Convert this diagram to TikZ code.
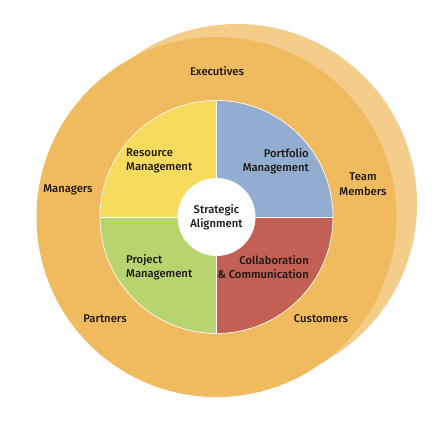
\documentclass[tikz,border=0pt]{standalone}
\usepackage{fontspec}
\setmainfont{Fira Sans}[BoldFont={* Medium}]
\usepackage{xcolor}
\definecolor{ringorange}{HTML}{F0BA5F}
\definecolor{ringshadow}{HTML}{F4CD8B}
\definecolor{resyellow}{HTML}{F7DB5C}
\definecolor{portblue}{HTML}{93ADD0}
\definecolor{projgreen}{HTML}{B8D46F}
\definecolor{collred}{HTML}{C45F54}
\definecolor{labeltext}{HTML}{1A1612}

\begin{document}
\begin{tikzpicture}[x=1bp,y=1bp,
    lbl/.style={font=\fontsize{11.3}{14.5}\selectfont\bfseries, text=labeltext, inner sep=0pt},
    lbl/.append style={align=center}]
\useasboundingbox[fill=white] (0,0) rectangle (432,432);
% outer ring: pale disc behind, then the orange stakeholder ring
\fill[ringshadow] (237,228) circle[radius=180bp];
\fill[ringorange] (216.5,215) circle[radius=180bp];
\coordinate (c) at (216.5,215);
% the four quadrants of the inner disc
\fill[portblue]   (c) -- ++(0:116.5bp)   arc[start angle=0,end angle=90,radius=116.5bp] -- cycle;
\fill[resyellow]  (c) -- ++(90:116.5bp)  arc[start angle=90,end angle=180,radius=116.5bp] -- cycle;
\fill[projgreen]  (c) -- ++(180:116.5bp) arc[start angle=180,end angle=270,radius=116.5bp] -- cycle;
\fill[collred]    (c) -- ++(270:116.5bp) arc[start angle=270,end angle=360,radius=116.5bp] -- cycle;
% thin white dividers and rim
\draw[white, line width=0.9bp] (c) ++(-116.5,0) -- ++(233,0);
\draw[white, line width=0.9bp] (c) ++(0,-116.5) -- ++(0,233);
\draw[white!85!ringorange, line width=0.8bp] (c) circle[radius=116.5bp];
% hub
\node[circle, fill=white, minimum size=78bp, inner sep=0pt] (hub) at (c) {};
\node[lbl] (align) at (c) {Strategic\\Alignment};
% quadrant labels
\node[lbl, anchor=west, align=left]  (resource)  at (126,271) {Resource\\Management};
\node[lbl, anchor=east, align=right] (portfolio) at (309,271) {Portfolio\\Management};
\node[lbl, anchor=west, align=left]  (project)   at (126,165) {Project\\Management};
\node[lbl, anchor=east, align=right] (collab)    at (309,165) {Collaboration\\\& Communication};
% stakeholders on the ring
\node[lbl] (exec)     at (217,361) {Executives};
\node[lbl] (managers) at (68,242)  {Managers};
\node[lbl] (team)     at (363,248) {Team\\Members};
\node[lbl] (partners) at (105,113) {Partners};
\node[lbl] (customers) at (321,113) {Customers};
\end{tikzpicture}
\end{document}
